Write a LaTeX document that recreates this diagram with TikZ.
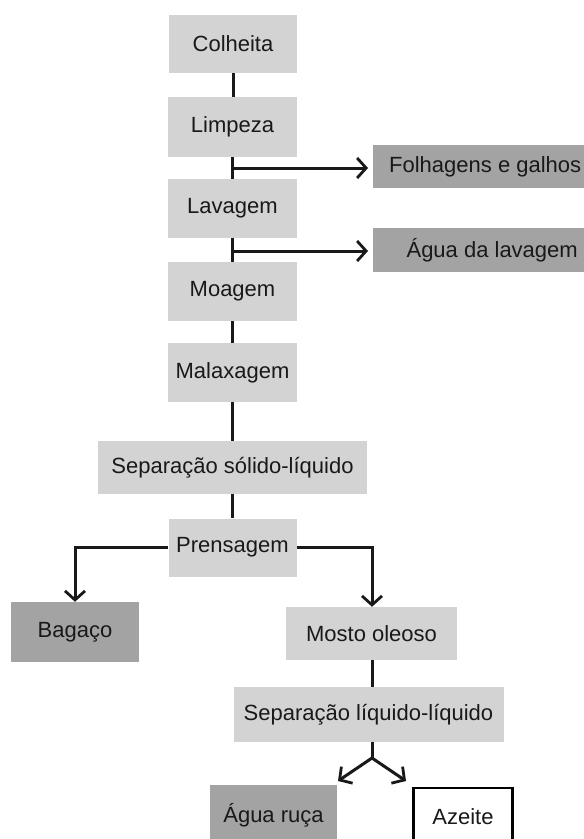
\documentclass[tikz,border=0pt]{standalone}
\usepackage{fontspec}
\setmainfont{Liberation Sans}
\usetikzlibrary{arrows.meta}
\definecolor{lg}{HTML}{D3D3D3}
\definecolor{dg}{HTML}{A3A3A3}
\begin{document}
\begin{tikzpicture}[x=1pt,y=-1pt,
  font=\fontsize{22}{25}\selectfont,
  base/.style={inner sep=0pt, text=black!90},
  light/.style={base, fill=lg},
  dark/.style={base, fill=dg},
  outl/.style={base, fill=white, draw=black, line width=2.5pt},
  conn/.style={line width=3pt, black!90},
  arr/.style={conn, -{Straight Barb[length=9pt,width=20pt,line width=2.8pt]}}]
\useasboundingbox (0,0) rectangle (584,839);
\node[light, minimum width=128pt, minimum height=58pt] (colheita) at (233,44) {Colheita};
\node[light, minimum width=129pt, minimum height=60pt] (limpeza) at (232.5,127) {Limpeza};
\node[light, minimum width=129pt, minimum height=59pt] (lavagem) at (232.5,208.5) {Lavagem};
\node[light, minimum width=129pt, minimum height=59pt] (moagem) at (232.5,291.5) {Moagem};
\node[light, minimum width=129pt, minimum height=59pt] (malax) at (232.5,372.5) {Malaxagem};
\node[light, minimum width=269pt, minimum height=53pt] (sepsol) at (232.5,467.5) {Separação sólido-líquido};
\node[light, minimum width=128pt, minimum height=58pt] (prens) at (232.5,547.5) {Prensagem};
\node[dark, minimum width=211pt, minimum height=43pt, anchor=west] (folh) at (373,166.5) {\hspace*{13pt}Folhagens e galhos\hfill};
\node[dark, minimum width=211pt, minimum height=44pt, anchor=west] (agual) at (373,250) {\hspace*{27pt}Água da lavagem\hfill};
\node[dark, minimum width=128pt, minimum height=60pt] (bagaco) at (75,632) {Bagaço};
\node[light, minimum width=171pt, minimum height=53pt] (mosto) at (371.5,633.5) {Mosto oleoso};
\node[light, minimum width=270pt, minimum height=55pt] (sepliq) at (368.5,714.5) {Separação líquido-líquido};
\node[dark, minimum width=127pt, minimum height=60pt] (aguar) at (273.5,815) {Água ruça};
\node[outl, minimum width=99pt, minimum height=58pt] (azeite) at (463,817) {Azeite};
% vertical connectors
\draw[conn] (colheita.south) -- (colheita.south |- limpeza.north);
\draw[conn] (limpeza.south) -- (lavagem.north);
\draw[conn] (lavagem.south) -- (moagem.north);
\draw[conn] (moagem.south) -- (malax.north);
\draw[conn] (malax.south) -- (sepsol.north);
\draw[conn] (sepsol.south) -- (prens.north);
\coordinate (mx) at (372,0);
\draw[conn] (mosto.south -| mx) -- (sepliq.north -| mx);
% side branches
\coordinate (b1) at (233,168);
\coordinate (b2) at (233,251);
\draw[arr] (b1) -- ([xshift=-5pt]b1 -| folh.west);
\draw[arr] (b2) -- ([xshift=-5pt]b2 -| agual.west);
% prensagem split
\draw[arr] (prens.west) -| (bagaco.north);
\draw[arr] (prens.east) -| (mosto.north -| mx);
% final split
\coordinate (fork) at (372,758);
\coordinate (tl) at (338,781);
\coordinate (tr) at (406,781);
\draw[conn] (sepliq.south -| fork) -- (fork);
\draw[arr] (fork) -- (tl);
\draw[arr] (fork) -- (tr);
\end{tikzpicture}
\end{document}
